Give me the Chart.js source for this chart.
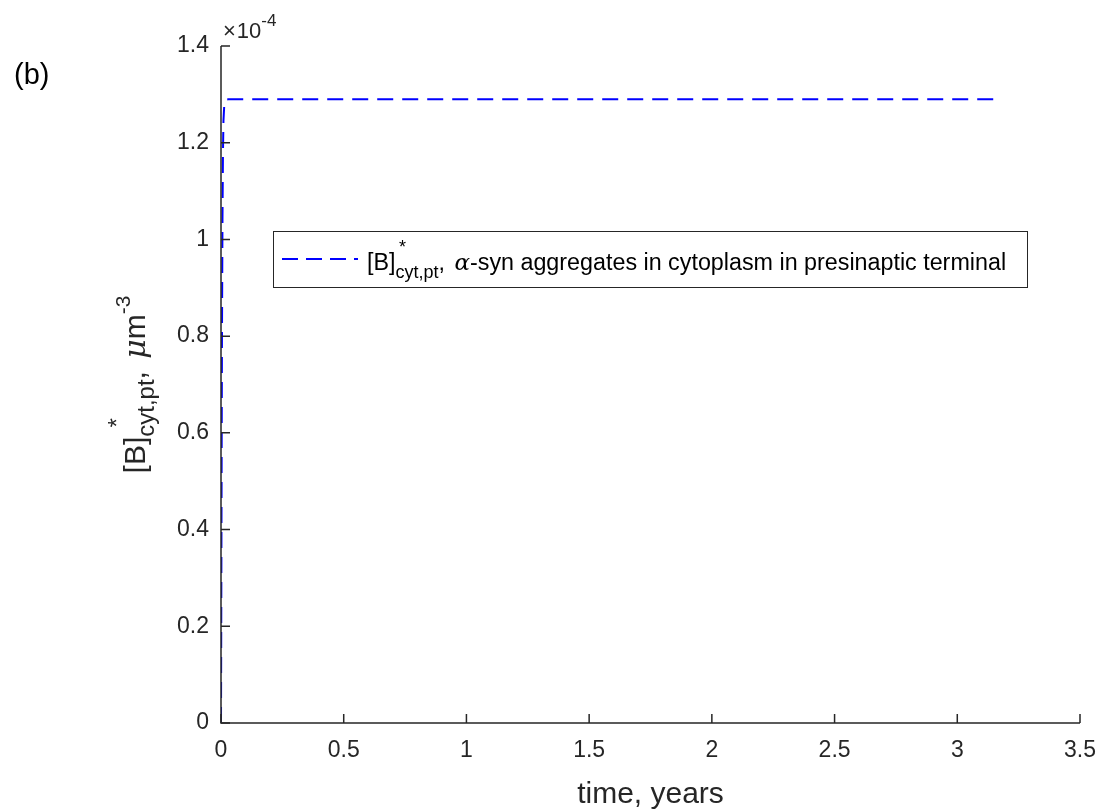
<!DOCTYPE html>
<html>
<head>
<meta charset="utf-8">
<script src="https://cdn.jsdelivr.net/npm/chart.js@4.4.0/dist/chart.umd.min.js"></script>
<style>
  html, body { margin: 0; padding: 0; background: #fff; }
  #wrap { width: 1102px; height: 811px; position: relative; }
</style>
</head>
<body>
<div id="wrap"><canvas id="c" width="1102" height="811"></canvas></div>
<script>
// time in years, concentration in units of 1e-4 um^-3
const timeYears = [0, 0.001, 0.002, 0.003, 0.004, 0.006, 0.008, 0.010, 0.013, 0.016, 0.020, 0.030, 0.050, 0.1, 0.5, 1.0, 1.5, 2.0, 2.5, 3.0, 3.18];
const bCytPt   = [0, 0.20, 0.42, 0.62, 0.80, 1.04, 1.18, 1.245, 1.275, 1.285, 1.289, 1.29, 1.29, 1.29, 1.29, 1.29, 1.29, 1.29, 1.29, 1.29, 1.29];
const xTicks = [0, 0.5, 1, 1.5, 2, 2.5, 3, 3.5];
const yTicks = [0, 0.2, 0.4, 0.6, 0.8, 1, 1.2, 1.4];

const FONT = 'Liberation Sans, Arial, Helvetica, sans-serif';
const AXIS_COLOR = '#262626';

// draw a sequence of text runs with baseline offsets
function drawRuns(ctx, x, y, runs) {
    runs.forEach(r => {
        ctx.font = r.font;
        ctx.fillText(r.text, x, y + (r.dy || 0));
        x += ctx.measureText(r.text).width + (r.after || 0);
    });
    return x;
}

const matlabAxes = {
    id: 'matlabAxes',
    afterDraw(chart) {
        const ctx = chart.ctx;
        const a = chart.chartArea;
        const xs = chart.scales.x, ys = chart.scales.y;
        ctx.save();
        ctx.strokeStyle = AXIS_COLOR;
        ctx.lineWidth = 1.5;
        ctx.beginPath();
        ctx.moveTo(a.left, a.top);
        ctx.lineTo(a.left, a.bottom);
        ctx.lineTo(a.right, a.bottom);
        ctx.stroke();
        // inward ticks
        ctx.beginPath();
        xTicks.forEach(v => {
            const px = xs.getPixelForValue(v);
            ctx.moveTo(px, a.bottom);
            ctx.lineTo(px, a.bottom - 9);
        });
        yTicks.forEach(v => {
            const py = ys.getPixelForValue(v);
            ctx.moveTo(a.left, py);
            ctx.lineTo(a.left + 9, py);
        });
        ctx.stroke();

        ctx.fillStyle = AXIS_COLOR;
        ctx.textBaseline = 'alphabetic';
        // exponent label
        ctx.textAlign = 'left';
        drawRuns(ctx, a.left + 2, 38, [
            { text: '\u00d7', font: '22px ' + FONT, after: 1 },
            { text: '10', font: '22px ' + FONT },
            { text: '-4', font: '17px ' + FONT, dy: -12 }
        ]);

        // x title
        ctx.textAlign = 'center';
        ctx.font = '30px ' + FONT;
        ctx.fillText('time, years', (a.left + a.right) / 2, 803);

        // y title (rotated)
        ctx.save();
        ctx.translate(145, (a.top + a.bottom) / 2);
        ctx.rotate(-Math.PI / 2);
        ctx.textAlign = 'left';
        const yRuns = [
            { text: '[B]', font: '30px ' + FONT },
            { text: 'cyt,pt', font: '24px ' + FONT, dy: 9 },
            { text: ', ', font: '30px ' + FONT, after: 4 },
            { text: '\u03bc', font: 'italic 30px DejaVu Serif, serif' },
            { text: 'm', font: '30px ' + FONT },
            { text: '-3', font: '21px ' + FONT, dy: -15 }
        ];
        let w = 0;
        yRuns.forEach(r => { ctx.font = r.font; w += ctx.measureText(r.text).width + (r.after || 0); });
        const x0 = -w / 2;
        drawRuns(ctx, x0, 0, yRuns);
        ctx.font = '24px ' + FONT;
        ctx.fillText('*', x0 + 46, -20);
        ctx.restore();

        // panel label
        ctx.textAlign = 'left';
        ctx.font = '29px ' + FONT;
        ctx.fillStyle = '#000';
        ctx.fillText('(b)', 14, 84);

        // legend
        const lx = 273, ly = 231, lw = 754, lh = 56;
        ctx.fillStyle = '#fff';
        ctx.fillRect(lx, ly, lw, lh);
        ctx.strokeStyle = AXIS_COLOR;
        ctx.lineWidth = 1;
        ctx.strokeRect(lx + 0.5, ly + 0.5, lw, lh);
        ctx.strokeStyle = '#0000ff';
        ctx.lineWidth = 2;
        ctx.setLineDash([16, 8]);
        ctx.beginPath();
        ctx.moveTo(282, 259);
        ctx.lineTo(358, 259);
        ctx.stroke();
        ctx.setLineDash([]);
        ctx.fillStyle = '#000';
        const tx = 367, ty = 270;
        drawRuns(ctx, tx, ty, [
            { text: '[B]', font: '23.3px ' + FONT },
            { text: 'cyt,pt', font: '18px ' + FONT, dy: 8 },
            { text: ', ', font: '23.3px ' + FONT, after: 3 },
            { text: '\u03b1', font: 'italic 23px DejaVu Serif, serif' },
            { text: '-syn aggregates in cytoplasm in presinaptic terminal', font: '23.3px ' + FONT }
        ]);
        ctx.font = '18px ' + FONT;
        ctx.fillText('*', tx + 32, ty - 17);
        ctx.restore();
    }
};

new Chart(document.getElementById('c'), {
    type: 'line',
    data: {
        datasets: [{
            data: timeYears.map((t, i) => ({ x: t, y: bCytPt[i] })),
            borderColor: '#0000ff',
            borderWidth: 2,
            borderDash: [16, 9],
            pointRadius: 0,
            tension: 0,
            fill: false
        }]
    },
    plugins: [matlabAxes],
    options: {
        responsive: false,
        animation: false,
        devicePixelRatio: 1,
        layout: { padding: { left: 0, top: 46, right: 22, bottom: 0 } },
        plugins: { legend: { display: false }, tooltip: { enabled: false } },
        scales: {
            x: {
                type: 'linear',
                min: 0, max: 3.5,
                afterFit(s) { s.height = 88; s.paddingLeft = 0; s.paddingRight = 0; },
                afterBuildTicks(s) { s.ticks = xTicks.map(v => ({ value: v })); },
                grid: { display: false, drawTicks: false },
                border: { display: false },
                ticks: {
                    color: AXIS_COLOR,
                    font: { family: FONT, size: 23 },
                    padding: 14,
                    maxRotation: 0,
                    autoSkip: false,
                    callback: v => String(v)
                }
            },
            y: {
                type: 'linear',
                min: 0, max: 1.4,
                afterFit(s) { s.width = 221; s.paddingTop = 0; s.paddingBottom = 0; },
                afterBuildTicks(s) { s.ticks = yTicks.map(v => ({ value: v })); },
                grid: { display: false, drawTicks: false },
                border: { display: false },
                ticks: {
                    color: AXIS_COLOR,
                    font: { family: FONT, size: 23 },
                    padding: 12,
                    autoSkip: false,
                    callback: v => String(Math.round(v * 10) / 10)
                }
            }
        }
    }
});
</script>
</body>
</html>
